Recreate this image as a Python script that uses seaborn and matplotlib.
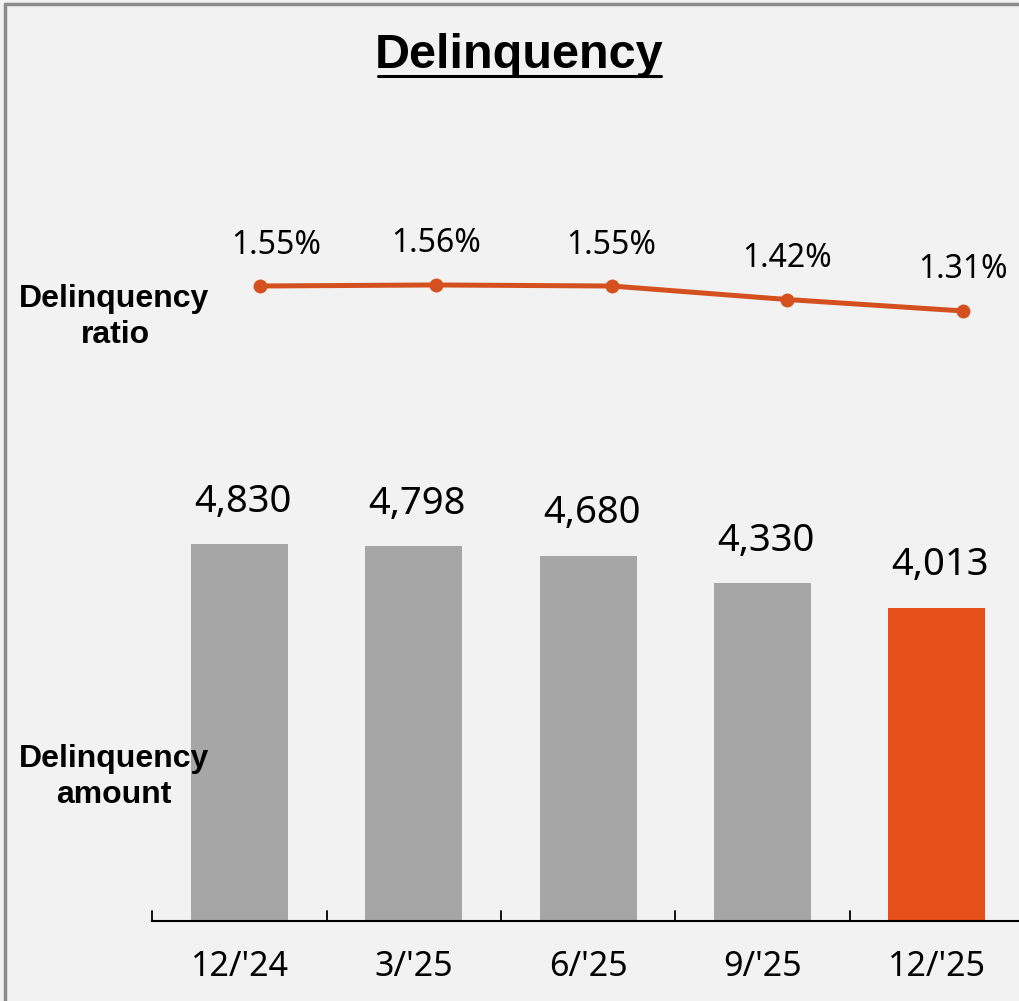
import numpy as np
import matplotlib
matplotlib.use("Agg")
import matplotlib.pyplot as plt
from matplotlib.lines import Line2D
import seaborn as sns

periods = ["12/'24", "3/'25", "6/'25", "9/'25", "12/'25"]
amounts = [4830, 4798, 4680, 4330, 4013]
amount_labels = ["4,830", "4,798", "4,680", "4,330", "4,013"]
ratios = [1.55, 1.56, 1.55, 1.42, 1.31]
ratio_labels = ["1.55%", "1.56%", "1.55%", "1.42%", "1.31%"]

BG = "#f2f2f2"
GRAY = "#a6a6a6"
ORANGE = "#e5501b"
LINE = "#d5501f"

sns.set_theme(style="white")
plt.rcParams["font.family"] = ["Noto Sans", "DejaVu Sans"]
plt.rcParams["text.color"] = "black"
plt.rcParams["xtick.color"] = "black"

W, H = 1019, 1001
fig = plt.figure(figsize=(W / 100, H / 100), dpi=100)
fig.patch.set_facecolor(BG)

def fx(px):
    return px / W

def fy(py):
    return 1 - py / H

# Bar axes
step = 174.3
left_px = 239.5 - 0.5 * step
right_px = left_px + 5 * step
bottom_px = 921
top_px = 420
ax = fig.add_axes([fx(left_px), fy(bottom_px), fx(right_px - left_px), (bottom_px - top_px) / H])
ax.set_facecolor("none")
colors = [GRAY, GRAY, GRAY, GRAY, ORANGE]
sns.barplot(x=periods, y=amounts, hue=periods, palette=colors, legend=False,
            width=0.556, ax=ax, saturation=1, linewidth=0)
px_per_unit = (921 - 544) / 4830
ax.set_ylim(0, (bottom_px - top_px) / px_per_unit)
ax.set_xlim(-0.5, 4.5)
for s in ["top", "right", "left"]:
    ax.spines[s].set_visible(False)
ax.spines["bottom"].set_color("black")
ax.spines["bottom"].set_linewidth(1.5)
ax.set_yticks([])
ax.set_xticks(np.arange(len(periods)))
ax.set_xticklabels(periods, fontsize=24.5, color="black")
ax.tick_params(axis="x", length=0, pad=21)
for b in np.arange(-0.5, 4.0, 1.0):
    ax.plot([b, b], [0, 10 / px_per_unit], color="black", lw=1.3, clip_on=False)
ax.set_xlabel("")
ax.set_ylabel("")
for i, (v, lab) in enumerate(zip(amounts, amount_labels)):
    ax.annotate(lab, (i, v), xytext=(2.5, 30.5), textcoords="offset points",
                ha="center", va="center", fontsize=27.5, color="black")

# Line axes
l_top, l_bot = 200, 400
lstep = 175.75
l_left = 260 - 0.5 * lstep
ax2 = fig.add_axes([fx(l_left), fy(l_bot), fx(5 * lstep), (l_bot - l_top) / H])
ax2.set_facecolor("none")
sns.lineplot(x=np.arange(len(ratios)), y=ratios, ax=ax2, color=LINE, lw=3.6,
             marker="o", markersize=10, markeredgewidth=0)
ppv = 104.0
ax2.set_ylim(1.55 - (l_bot - 286) / ppv, 1.55 + (286 - l_top) / ppv)
ax2.set_xlim(-0.5, 4.5)
ax2.axis("off")
for i, (v, lab) in enumerate(zip(ratios, ratio_labels)):
    dx = 12 if i == 0 else 0
    ax2.annotate(lab, (i, v), xytext=(dx, 29.5), textcoords="offset points",
                 ha="center", va="center", fontsize=23, color="black")

# Title
fig.text(fx(519), fy(68), "Delinquency", ha="center", va="baseline", fontsize=35,
         fontweight="bold", color="black", family=["Liberation Sans", "DejaVu Sans"])
fig.add_artist(Line2D([fx(378), fx(661)], [fy(76), fy(76)], color="black", lw=2.2))

# Side labels
side_kw = dict(ha="center", va="baseline", fontsize=23, fontweight="bold",
               color="black", family=["Liberation Sans", "DejaVu Sans"])
fig.text(fx(114), fy(307), "Delinquency", **side_kw)
fig.text(fx(115), fy(343), "ratio", **side_kw)
fig.text(fx(114), fy(767), "Delinquency", **side_kw)
fig.text(fx(114), fy(803), "amount", **side_kw)

# Frame lines (top and left)
fig.add_artist(Line2D([fx(5), 1], [fy(4), fy(4)], color="#8c8c8c", lw=2.5))
fig.add_artist(Line2D([fx(5), fx(5)], [fy(4), 0], color="#8c8c8c", lw=2.5))

fig.savefig("out.png", dpi=100, facecolor=BG)
